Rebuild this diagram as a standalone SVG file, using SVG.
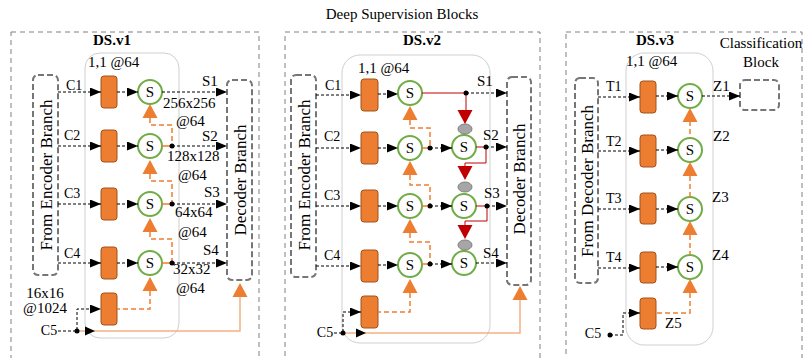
<svg xmlns="http://www.w3.org/2000/svg" xmlns:xlink="http://www.w3.org/1999/xlink" width="804" height="358" viewBox="0 0 804 358">
<defs>
<style>
text{font-family:"Liberation Serif","Times New Roman",serif;fill:#000}
.t15{font-size:15px}
.t14{font-size:14px}
.big{font-size:17px}
.bold{font-size:15px;font-weight:bold}
.panel{fill:none;stroke:#808080;stroke-width:1;stroke-dasharray:5,4}
.inner{fill:none;stroke:#cfcfcf;stroke-width:1}
.dbox{fill:#fff;stroke:#767676;stroke-width:2;stroke-dasharray:6,3}
.box{fill:#ED7D31;stroke:#A0521C;stroke-width:1}
.circ{fill:#fff;stroke:#70AD47;stroke-width:2}
.dash{fill:none;stroke:#000;stroke-width:1;stroke-dasharray:3,2}
.odash{fill:none;stroke:#ED7D31;stroke-width:1.5;stroke-dasharray:5,3}
.osolid{fill:none;stroke:#F4B183;stroke-width:1.5}
.oshort{fill:none;stroke:#ED7D31;stroke-width:1.5}
.red{fill:none;stroke:#C00000;stroke-width:1}
.otri{fill:#ED7D31}
.rtri{fill:#C00000}
.gray{fill:#A6A6A6;stroke:#7F7F7F;stroke-width:1}
.dot{fill:#000}
</style>
<marker id="ah" markerUnits="userSpaceOnUse" markerWidth="11" markerHeight="9" refX="11" refY="4.5" orient="auto">
<path d="M0,0 L11,4.5 L0,9 z" fill="#000"/>
</marker>
<path id="up" d="M0,0 L7.5,14 L-7.5,14 z"/>
<path id="down" d="M0,14 L7.5,0 L-7.5,0 z"/>
</defs>

<text class="t15" x="402" y="19" text-anchor="middle">Deep Supervision Blocks</text>

<!-- Panel 1 -->
<g id="panel1">
<rect class="panel" x="11" y="32" width="248" height="330"/>
<text class="bold" x="112" y="45" text-anchor="middle">DS.v1</text>
<rect class="inner" x="85" y="53" width="94" height="285" rx="15"/>
<text class="t15" x="88" y="67">1,1 @64</text>
</g>
<g id="p1-encoder"><rect class="dbox" x="33" y="75" width="25" height="200" rx="5"/>
<text class="big" transform="translate(52,175) rotate(-90)" text-anchor="middle">From Encoder Branch</text></g>
<g id="p1-decoder"><rect class="dbox" x="227" y="80" width="25" height="200" rx="5"/>
<text class="big" transform="translate(246,180) rotate(-90)" text-anchor="middle">Decoder Branch</text></g>
<g id="p1-boxes">
<rect class="box" x="101" y="76" width="16" height="32" rx="3"/>
<rect class="box" x="101" y="130" width="16" height="32" rx="3"/>
<rect class="box" x="101" y="188" width="16" height="32" rx="3"/>
<rect class="box" x="101" y="247" width="16" height="32" rx="3"/>
<rect class="box" x="101" y="293" width="16" height="32" rx="3"/>
</g>
<g id="p1-s">
<circle class="circ" cx="150" cy="92" r="12"/><text class="t15" x="150" y="97" text-anchor="middle">S</text>
<circle class="circ" cx="150" cy="146" r="12"/><text class="t15" x="150" y="151" text-anchor="middle">S</text>
<circle class="circ" cx="150" cy="204" r="12"/><text class="t15" x="150" y="209" text-anchor="middle">S</text>
<circle class="circ" cx="150" cy="263" r="12"/><text class="t15" x="150" y="268" text-anchor="middle">S</text>
</g>
<g id="p1-labels">
<text class="t14" x="66" y="90">C1</text>
<text class="t14" x="64" y="140">C2</text>
<text class="t14" x="64" y="198">C3</text>
<text class="t14" x="64" y="258">C4</text>
<text class="t14" x="49" y="335" text-anchor="middle">C5</text>
<text class="t15" x="45" y="298" text-anchor="middle">16x16</text>
<text class="t15" x="45" y="313" text-anchor="middle">@1024</text>
<text class="t15" x="202" y="86">S1</text>
<text class="t15" x="202" y="141">S2</text>
<text class="t15" x="204" y="197">S3</text>
<text class="t15" x="203" y="255">S4</text>
<text class="t15" x="163" y="108">256x256</text>
<text class="t15" x="176" y="126">@64</text>
<text class="t15" x="167" y="161">128x128</text>
<text class="t15" x="178" y="180">@64</text>
<text class="t15" x="175" y="217">64x64</text>
<text class="t15" x="178" y="237">@64</text>
<text class="t15" x="173" y="274">32x32</text>
<text class="t15" x="176" y="293">@64</text>
</g>
<g id="p1-connectors">
<path class="dash" d="M58,92 H101" marker-end="url(#ah)"/>
<path class="dash" d="M58,146 H101" marker-end="url(#ah)"/>
<path class="dash" d="M58,204 H101" marker-end="url(#ah)"/>
<path class="dash" d="M58,263 H101" marker-end="url(#ah)"/>
<path class="dash" d="M117,92 H138" marker-end="url(#ah)"/>
<path class="dash" d="M117,146 H138" marker-end="url(#ah)"/>
<path class="dash" d="M117,204 H138" marker-end="url(#ah)"/>
<path class="dash" d="M117,263 H138" marker-end="url(#ah)"/>
<path class="dash" d="M162,92 H227" marker-end="url(#ah)"/>
<path class="dash" d="M172,146 H227" marker-end="url(#ah)"/>
<path class="dash" d="M172,204 H227" marker-end="url(#ah)"/>
<path class="dash" d="M172,263 H227" marker-end="url(#ah)"/>
<path class="oshort" d="M162,146 H172 M162,204 H172 M162,263 H172"/>
<path class="odash" d="M150,118 V125 H172 V146"/>
<path class="odash" d="M150,174 V181 H172 V204"/>
<path class="odash" d="M150,232 V239 H172 V263"/>
<path class="odash" d="M150,291 V309 H117"/>
<use href="#up" class="otri" x="150" y="104"/>
<use href="#up" class="otri" x="150" y="160"/>
<use href="#up" class="otri" x="150" y="218"/>
<use href="#up" class="otri" x="150" y="277"/>
<circle class="dot" cx="172" cy="146" r="2.5"/>
<circle class="dot" cx="172" cy="204" r="2.5"/>
<circle class="dot" cx="172" cy="263" r="2.5"/>
<path class="osolid" d="M77,331 H240 V297"/>
<use href="#up" class="otri" x="240" y="283"/>
<path class="dash" d="M58,331 H77 V309 H101" marker-end="url(#ah)"/>
<path d="M85,326.5 L95,331 L85,335.5 z" fill="#000"/>
<circle class="dot" cx="77" cy="331" r="2.5"/>
</g>

<!-- Panel 2 -->
<g id="panel2">
<rect class="panel" x="285" y="32" width="255" height="330"/>
<text class="bold" x="422" y="45" text-anchor="middle">DS.v2</text>
<rect class="inner" x="342" y="55" width="148" height="288" rx="18"/>
<text class="t15" x="358" y="73">1,1 @64</text>
</g>
<g id="p2-encoder"><rect class="dbox" x="291" y="75" width="25" height="202" rx="5"/>
<text class="big" transform="translate(310,175) rotate(-90)" text-anchor="middle">From Encoder Branch</text></g>
<g id="p2-decoder"><rect class="dbox" x="507" y="77" width="24" height="208" rx="5"/>
<text class="big" transform="translate(525,179) rotate(-90)" text-anchor="middle">Decoder Branch</text></g>
<g id="p2-boxes">
<rect class="box" x="361" y="79" width="17" height="32" rx="3"/>
<rect class="box" x="361" y="132" width="17" height="32" rx="3"/>
<rect class="box" x="361" y="190" width="17" height="32" rx="3"/>
<rect class="box" x="361" y="250" width="17" height="32" rx="3"/>
<rect class="box" x="361" y="296" width="17" height="32" rx="3"/>
</g>
<g id="p2-s">
<circle class="circ" cx="410" cy="93" r="12"/><text class="t15" x="410" y="98" text-anchor="middle">S</text>
<circle class="circ" cx="410" cy="148" r="12"/><text class="t15" x="410" y="153" text-anchor="middle">S</text>
<circle class="circ" cx="410" cy="206" r="12"/><text class="t15" x="410" y="211" text-anchor="middle">S</text>
<circle class="circ" cx="410" cy="265" r="12"/><text class="t15" x="410" y="270" text-anchor="middle">S</text>
<circle class="circ" cx="464" cy="147" r="12"/><text class="t15" x="464" y="152" text-anchor="middle">S</text>
<circle class="circ" cx="464" cy="206" r="12"/><text class="t15" x="464" y="211" text-anchor="middle">S</text>
<circle class="circ" cx="464" cy="263" r="12"/><text class="t15" x="464" y="268" text-anchor="middle">S</text>
<ellipse class="gray" cx="465" cy="129" rx="7" ry="5"/>
<ellipse class="gray" cx="465" cy="187" rx="7" ry="5"/>
<ellipse class="gray" cx="465" cy="245" rx="7" ry="5"/>
</g>
<g id="p2-labels">
<text class="t14" x="325" y="90">C1</text>
<text class="t14" x="324" y="141">C2</text>
<text class="t14" x="324" y="200">C3</text>
<text class="t14" x="324" y="260">C4</text>
<text class="t14" x="325" y="337" text-anchor="middle">C5</text>
<text class="t15" x="477" y="86">S1</text>
<text class="t15" x="483" y="140">S2</text>
<text class="t15" x="484" y="198">S3</text>
<text class="t15" x="483" y="258">S4</text>
</g>
<g id="p2-connectors">
<path class="dash" d="M316,95 H361" marker-end="url(#ah)"/>
<path class="dash" d="M316,148 H361" marker-end="url(#ah)"/>
<path class="dash" d="M316,206 H361" marker-end="url(#ah)"/>
<path class="dash" d="M316,266 H361" marker-end="url(#ah)"/>
<path class="dash" d="M378,94 H398" marker-end="url(#ah)"/>
<path class="dash" d="M378,148 H398" marker-end="url(#ah)"/>
<path class="dash" d="M378,206 H398" marker-end="url(#ah)"/>
<path class="dash" d="M378,265 H398" marker-end="url(#ah)"/>
<path class="dash" d="M430,148 H452" marker-end="url(#ah)"/>
<path class="dash" d="M430,206 H452" marker-end="url(#ah)"/>
<path class="dash" d="M430,264 H452" marker-end="url(#ah)"/>
<path class="dash" d="M466,93 H507" marker-end="url(#ah)"/>
<path class="dash" d="M486,147 H507" marker-end="url(#ah)"/>
<path class="dash" d="M487,206 H507" marker-end="url(#ah)"/>
<path class="dash" d="M476,263 H507" marker-end="url(#ah)"/>
<path class="oshort" d="M422,148 H430 M422,206 H430 M422,264 H430"/>
<path class="red" d="M422,93 H466 V110"/>
<path class="red" d="M476,147 H486 V163 H465 V166"/>
<path class="red" d="M476,206 H487 V221 H465 V225"/>
<use href="#down" class="rtri" x="465" y="110"/>
<use href="#down" class="rtri" x="465" y="166"/>
<use href="#down" class="rtri" x="465" y="225"/>
<circle class="dot" cx="466" cy="93" r="2.5"/>
<circle class="dot" cx="486" cy="147" r="2.5"/>
<circle class="dot" cx="487" cy="206" r="2.5"/>
<path class="odash" d="M410,120 V128 H430 V148"/>
<path class="odash" d="M410,175 V185 H430 V206"/>
<path class="odash" d="M410,233 V242 H430 V264"/>
<path class="odash" d="M410,293 V312 H378"/>
<use href="#up" class="otri" x="410" y="106"/>
<use href="#up" class="otri" x="410" y="161"/>
<use href="#up" class="otri" x="410" y="219"/>
<use href="#up" class="otri" x="410" y="279"/>
<circle class="dot" cx="430" cy="148" r="2.5"/>
<circle class="dot" cx="430" cy="206" r="2.5"/>
<circle class="dot" cx="430" cy="264" r="2.5"/>
<path class="osolid" d="M343,333 H520 V300"/>
<use href="#up" class="otri" x="520" y="286"/>
<path class="dash" d="M334,333 H343 V312 H361" marker-end="url(#ah)"/>
<path d="M356,328.5 L366,333 L356,337.5 z" fill="#000"/>
<circle class="dot" cx="343" cy="333" r="2.5"/>
</g>

<!-- Panel 3 -->
<g id="panel3">
<rect class="panel" x="566" y="32" width="236" height="330"/>
<text class="bold" x="655" y="45" text-anchor="middle">DS.v3</text>
<rect class="inner" x="626" y="53" width="87" height="292" rx="18"/>
<text class="t15" x="626" y="66">1,1 @64</text>
</g>
<g id="p3-decoder"><rect class="dbox" x="575" y="78" width="23" height="205" rx="5"/>
<text class="big" transform="translate(593,181) rotate(-90)" text-anchor="middle">From Decoder Branch</text></g>
<g id="p3-class"><rect class="dbox" x="740" y="80" width="39" height="30" rx="5"/>
<text class="t15" x="761" y="48" text-anchor="middle">Classification</text>
<text class="t15" x="761" y="67" text-anchor="middle">Block</text></g>
<g id="p3-boxes">
<rect class="box" x="640" y="81" width="16" height="32" rx="3"/>
<rect class="box" x="640" y="135" width="16" height="32" rx="3"/>
<rect class="box" x="640" y="193" width="16" height="31" rx="3"/>
<rect class="box" x="640" y="252" width="16" height="31" rx="3"/>
<rect class="box" x="640" y="298" width="16" height="31" rx="3"/>
</g>
<g id="p3-s">
<circle class="circ" cx="690" cy="96" r="12"/><text class="t15" x="690" y="101" text-anchor="middle">S</text>
<circle class="circ" cx="690" cy="150" r="12"/><text class="t15" x="690" y="155" text-anchor="middle">S</text>
<circle class="circ" cx="690" cy="209" r="12"/><text class="t15" x="690" y="214" text-anchor="middle">S</text>
<circle class="circ" cx="690" cy="267" r="12"/><text class="t15" x="690" y="272" text-anchor="middle">S</text>
</g>
<g id="p3-labels">
<text class="t14" x="606" y="91">T1</text>
<text class="t14" x="606" y="146">T2</text>
<text class="t14" x="606" y="203">T3</text>
<text class="t14" x="606" y="262">T4</text>
<text class="t14" x="593" y="338" text-anchor="middle">C5</text>
<text class="t15" x="713" y="91">Z1</text>
<text class="t15" x="713" y="141">Z2</text>
<text class="t15" x="712" y="202">Z3</text>
<text class="t15" x="712" y="260">Z4</text>
<text class="t15" x="665" y="328">Z5</text>
</g>
<g id="p3-connectors">
<path class="dash" d="M598,97 H640" marker-end="url(#ah)"/>
<path class="dash" d="M598,151 H640" marker-end="url(#ah)"/>
<path class="dash" d="M598,209 H640" marker-end="url(#ah)"/>
<path class="dash" d="M598,268 H640" marker-end="url(#ah)"/>
<path class="dash" d="M656,96 H678" marker-end="url(#ah)"/>
<path class="dash" d="M656,150 H678" marker-end="url(#ah)"/>
<path class="dash" d="M656,209 H678" marker-end="url(#ah)"/>
<path class="dash" d="M656,267 H678" marker-end="url(#ah)"/>
<path class="dash" d="M702,96 H740" marker-end="url(#ah)"/>
<path class="odash" d="M690,121 V138"/>
<path class="odash" d="M690,176 V197"/>
<path class="odash" d="M690,235 V255"/>
<path class="odash" d="M690,293 V313 H656"/>
<use href="#up" class="otri" x="690" y="108"/>
<use href="#up" class="otri" x="690" y="162"/>
<use href="#up" class="otri" x="690" y="221"/>
<use href="#up" class="otri" x="690" y="279"/>
<path class="dash" d="M610,335 H623 V313 H640" marker-end="url(#ah)"/>
<circle class="dot" cx="610" cy="335" r="2.5"/>
</g>
</svg>
